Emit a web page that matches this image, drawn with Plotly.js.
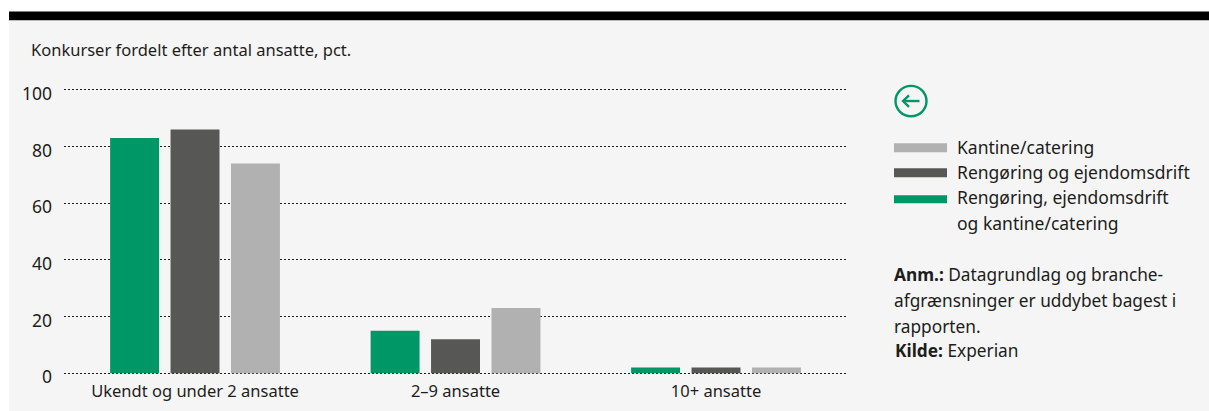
<!DOCTYPE html>
<html><head><meta charset="utf-8">
<script src="https://cdn.plot.ly/plotly-3.0.1.min.js"></script>
<style>html,body{margin:0;padding:0;background:#fff;overflow:hidden}#c{width:1209px;height:411px}</style>
</head><body><div id="c"></div>
<script>
const categories = ["Ukendt og under 2 ansatte", "2–9 ansatte", "10+ ansatte"];
const combined = [83, 15, 2];
const cleaning = [86, 12, 2];
const canteen = [74, 23, 2];
const names = ["Rengøring, ejendomsdrift og kantine/catering", "Rengøring og ejendomsdrift", "Kantine/catering"];
const colors = ["#009767", "#575756", "#b1b1b1"];
const yTicks = [0, 20, 40, 60, 80, 100];
const titleText = "Konkurser fordelt efter antal ansatte, pct.";

const W = 1209, H = 411, L = 64, R = 846, T = 89.5, B = 373;
const EXT = 1;                         // axis runs 1 unit past 0 and 100 so both edge gridlines draw
const UNIT = (B - T) / 100;
const plotT = T - EXT * UNIT, plotB = B + EXT * UNIT;
const px = x => (x - L) / (R - L), py = y => (plotB - y) / (plotB - plotT);
const FONT = "Noto Sans", INK = "#1d1d1b";

const traces = [combined, cleaning, canteen].map((v, i) => ({
  type: "bar", x: categories, y: v, name: names[i],
  marker: {color: colors[i]}, hoverinfo: "x+y+name"
}));

function rect(x0, y0, x1, y1, fill) {
  return {type: "rect", xref: "paper", yref: "paper", x0: px(x0), x1: px(x1), y0: py(y0), y1: py(y1),
    fillcolor: fill, line: {width: 0}, layer: "below"};
}
function text(x, y, t, size) {
  return {xref: "paper", yref: "paper", x: px(x - 2), y: py(y), text: t, showarrow: false,
    xanchor: "left", yanchor: "middle", align: "left", font: {family: FONT, size: size, color: INK}};
}
function stroke(path) {
  return {type: "path", xref: "paper", yref: "paper", path: path, line: {color: colors[0], width: 2.4}, fillcolor: "rgba(0,0,0,0)"};
}
const P = (x, y) => px(x) + "," + py(y);

const shapes = [
  rect(9, 20, W, H, "#f5f5f5"),
  rect(9, 11, W, 20, "#000000"),
  rect(894, 143, 947, 152, colors[2]),
  rect(894, 168, 947, 177, colors[1]),
  rect(894, 195, 947, 203, colors[0]),
  {type: "circle", xref: "paper", yref: "paper", x0: px(895.5), x1: px(926.5), y0: py(85.5), y1: py(116),
    line: {color: colors[0], width: 2.4}, fillcolor: "rgba(0,0,0,0)"},
  stroke("M" + P(903, 100.7) + " L" + P(919.5, 100.7)),
  stroke("M" + P(909, 95) + " L" + P(903, 100.7) + " L" + P(909, 106.5))
];

const annotations = [
  text(31, 49, titleText, 16.5),
  text(957, 147, "Kantine/catering", 17.5),
  text(957, 172, "Rengøring og ejendomsdrift", 17.5),
  text(957, 197, "Rengøring, ejendomsdrift", 17.5),
  text(957, 223, "og kantine/catering", 17.5),
  text(894, 274, "<b>Anm.:</b> Datagrundlag og branche-", 17.3),
  text(894, 300, "afgrænsninger er uddybet bagest i", 17.3),
  text(894, 326, "rapporten.", 17.3),
  text(895, 350, "<b>Kilde:</b> Experian", 17.3)
];

const layout = {
  width: W, height: H, margin: {l: L, r: W - R, t: plotT, b: H - plotB, pad: 0},
  paper_bgcolor: "#ffffff", plot_bgcolor: "rgba(0,0,0,0)",
  font: {family: FONT, color: INK},
  barmode: "group", bargap: 0.304, bargroupgap: 0.19, showlegend: false,
  xaxis: {type: "category", range: [-0.503, 2.499], showgrid: false, zeroline: false, showline: false, ticks: "",
    tickfont: {size: 16.5, family: FONT, color: INK}, ticklabelstandoff: 3, fixedrange: true},
  yaxis: {range: [-EXT, 100 + EXT], tickvals: yTicks, showgrid: true, gridcolor: "#1d1d1b", gridwidth: 1, griddash: "2px,2px",
    zeroline: false, showline: false, ticks: "", tickfont: {size: 17.5, family: FONT, color: INK},
    ticklabelstandoff: 11, ticklabelshift: 4, fixedrange: true},
  shapes, annotations
};
Plotly.newPlot("c", traces, layout, {displayModeBar: false, staticPlot: true});
</script></body></html>
